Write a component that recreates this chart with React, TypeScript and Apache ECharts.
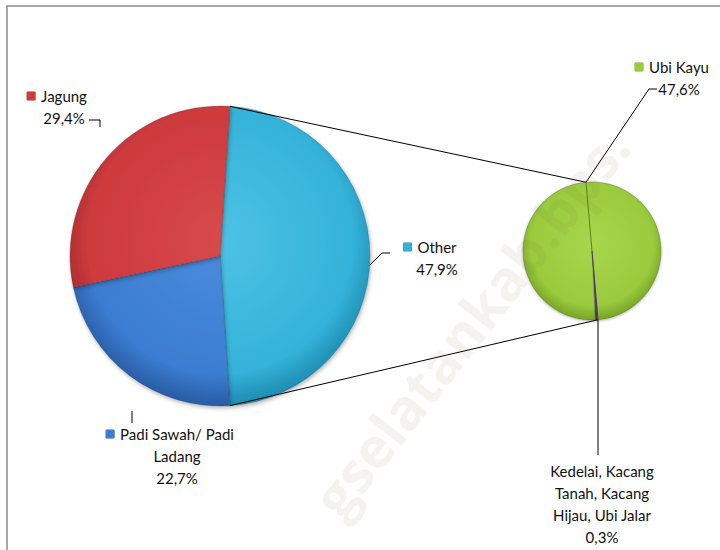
import React, { useEffect, useRef } from "react";
import * as echarts from "echarts";

// ---- data ----
const mainCategories = ["Other", "Padi Sawah/ Padi Ladang", "Jagung"];
const mainValues = [47.9, 22.7, 29.4];
const subCategories = ["Kedelai, Kacang Tanah, Kacang Hijau, Ubi Jalar", "Ubi Kayu"];
const subValues = [0.3, 47.6];
const percentLabels: Record<string, string> = {
  Other: "47,9%",
  "Padi Sawah/ Padi Ladang": "22,7%",
  Jagung: "29,4%",
  "Ubi Kayu": "47,6%",
  "Kedelai, Kacang Tanah, Kacang Hijau, Ubi Jalar": "0,3%",
};
const displayLines: Record<string, string[]> = {
  Other: ["Other"],
  "Padi Sawah/ Padi Ladang": ["Padi Sawah/ Padi", "Ladang"],
  Jagung: ["Jagung"],
  "Ubi Kayu": ["Ubi Kayu"],
  "Kedelai, Kacang Tanah, Kacang Hijau, Ubi Jalar": ["Kedelai, Kacang", "Tanah, Kacang", "Hijau, Ubi Jalar"],
};

// ---- layout ----
const MAIN = { cx: 220, cy: 256, r: 150 };
const SUB = { cx: 592, cy: 251, r: 69 };
const mainStartCW = 3.8; // clockwise degrees from 12 o'clock
const subStartCW = 175;
const FONT = "Lato, 'Open Sans', sans-serif";

const labelPos: Record<string, { x: number; y: number }> = {
  Other: { x: 437, y: 236 },
  "Padi Sawah/ Padi Ladang": { x: 177, y: 423 },
  Jagung: { x: 64, y: 85 },
  "Ubi Kayu": { x: 679, y: 56 },
  "Kedelai, Kacang Tanah, Kacang Hijau, Ubi Jalar": { x: 602, y: 460 },
};

const colors: Record<string, string[]> = {
  Other: ["#4cc3e5", "#35b2d9", "#1f8fb3"],
  "Padi Sawah/ Padi Ladang": ["#4a8cdc", "#3b7dd2", "#2a5fa8"],
  Jagung: ["#d8494b", "#cc3a3d", "#a12a2c"],
  "Ubi Kayu": ["#a8d64c", "#9acb3c", "#7aa72a"],
  "Kedelai, Kacang Tanah, Kacang Hijau, Ubi Jalar": ["#8a6cc0", "#6b4d9c", "#4f3578"],
};

function pt(c: { cx: number; cy: number; r: number }, deg: number) {
  const a = (deg * Math.PI) / 180;
  return [c.cx + c.r * Math.sin(a), c.cy - c.r * Math.cos(a)];
}

function grad(name: string, c: { cx: number; cy: number; r: number }) {
  const k = colors[name];
  return new echarts.graphic.RadialGradient(
    c.cx,
    c.cy - c.r * 0.1,
    c.r * 1.08,
    [
      { offset: 0, color: k[0] },
      { offset: 0.82, color: k[1] },
      { offset: 1, color: k[2] },
    ],
    true
  );
}

function richLabel(name: string, icon: boolean) {
  const lines = [...displayLines[name], percentLabels[name]];
  return lines
    .map((l, i) => (i === 0 && icon ? `{icon|}{gap|}{t|${l}}{pad|}` : `{t|${l}}`))
    .join("\n");
}

function richStyles(name: string) {
  return {
    icon: {
      width: 8,
      height: 8,
      backgroundColor: colors[name][1],
      borderColor: colors[name][2],
      borderWidth: 0.5,
    },
    gap: { width: 6 },
    pad: { width: 14 },
    t: { fontSize: 15, fontFamily: FONT, fill: "#111", lineHeight: 22 },
  };
}

function labelText(name: string, icon: boolean) {
  const p = labelPos[name];
  return {
    type: "text",
    x: p.x,
    y: p.y,
    z: 15,
    silent: true,
    style: {
      text: richLabel(name, icon),
      rich: richStyles(name),
      align: "center",
      verticalAlign: "top",
      fontSize: 15,
      fontFamily: FONT,
      fill: "#111",
      lineHeight: 22,
    },
  };
}

export default function App() {
  const ref = useRef<HTMLDivElement>(null);
  useEffect(() => {
    if (!ref.current) return;
    const chart = echarts.init(ref.current, null, { renderer: "svg" });

    const mainData = mainCategories.map((n, i) => ({
      name: n,
      value: mainValues[i],
      itemStyle: { color: grad(n, MAIN) },
    }));
    const subData = subCategories.map((n, i) => ({
      name: n,
      value: subValues[i],
      itemStyle: { color: grad(n, SUB) },
    }));

    const mTop = pt(MAIN, mainStartCW);
    const mBot = pt(MAIN, mainStartCW + (mainValues[0] / 100) * 360);
    const sBot = pt(SUB, subStartCW);
    const sTop = pt(SUB, subStartCW + 180);

    const line = (points: number[][], color = "#000") => ({
      type: "polyline",
      shape: { points },
      style: { stroke: color, lineWidth: 1, fill: null },
      z: 10,
      silent: true,
    });

    chart.setOption({
      animation: false,
      backgroundColor: "#fff",
      series: [
        {
          type: "pie",
          center: [MAIN.cx, MAIN.cy],
          radius: [0, MAIN.r],
          startAngle: 90 - mainStartCW,
          clockwise: true,
          data: mainData,
          itemStyle: {
            borderColor: "rgba(0,0,0,0.25)",
            borderWidth: 0.6,
            shadowBlur: 4,
            shadowColor: "rgba(0,0,0,0.3)",
            shadowOffsetY: 2,
            shadowOffsetX: 1,
          },
          label: { show: false },
          labelLine: { show: false },
          emphasis: { disabled: true },
        },
        {
          type: "pie",
          center: [SUB.cx, SUB.cy],
          radius: [0, SUB.r],
          startAngle: 90 - subStartCW,
          clockwise: true,
          data: subData,
          itemStyle: {
            borderColor: "rgba(60,70,20,0.5)",
            borderWidth: 0.6,
            shadowBlur: 3,
            shadowColor: "rgba(0,0,0,0.3)",
            shadowOffsetY: 1,
          },
          label: { show: false },
          labelLine: { show: false },
          emphasis: { disabled: true },
        },
      ],
      graphic: [
        {
          type: "rect",
          shape: { x: 7, y: 6, width: 800, height: 800 },
          style: { fill: null, stroke: "#8c8c8c", lineWidth: 1.5 },
          z: 0,
          silent: true,
        },
        line([mTop, sTop]),
        line([mBot, sBot]),
        line([[SUB.cx, SUB.cy], sTop], "#5b7f24"),
        line([[SUB.cx, SUB.cy], sBot], "#4f3578"),
        // leader lines
        line([[89, 120], [100, 120], [100, 127]]),
        line([pt(MAIN, 93.5), [382, 253], [390, 253]]),
        line([[132, 411], [132, 423]]),
        line([sTop, [649, 89], [657, 89]]),
        line([sBot, [598, 455]]),
        ...mainCategories.map((n) => labelText(n, true)),
        ...subCategories.map((n) => labelText(n, n === "Ubi Kayu")),
        {
          type: "text",
          x: 470,
          y: 322,
          rotation: (52 * Math.PI) / 180,
          style: {
            text: "gselatankab.bps.",
            font: "bold 56px 'Open Sans', sans-serif",
            fill: "rgba(120,100,60,0.08)",
            align: "center",
            verticalAlign: "middle",
          },
          z: 20,
          silent: true,
        },
      ],
    });
    return () => chart.dispose();
  }, []);
  return (
    <div
      ref={ref}
      style={{ position: "absolute", left: 0, top: 0, width: 720, height: 550 }}
    />
  );
}
